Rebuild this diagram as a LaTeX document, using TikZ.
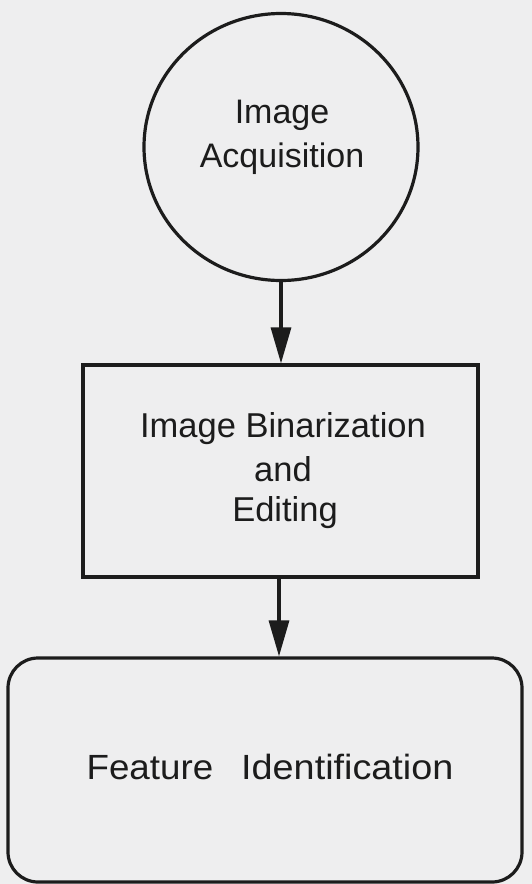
\documentclass[tikz,border=0pt]{standalone}
\usepackage{fontspec}
\setmainfont{Liberation Sans}
\usetikzlibrary{arrows.meta,shapes.geometric}
\definecolor{paper}{HTML}{EEEEEF}
\definecolor{ink}{HTML}{1C1C1C}
\begin{document}
\begin{tikzpicture}[x=1pt,y=-1pt,
  shapeline/.style={draw=ink,line width=3.2pt,inner sep=0pt},
  lbl/.style={text=ink,align=center,font=\fontsize{34}{44}\selectfont},
  flow/.style={draw=ink,line width=3.2pt,-{Triangle[length=36pt,width=20pt]}}]
  \fill[paper] (0,0) rectangle (532,884);
  \useasboundingbox (0,0) rectangle (532,884);
  % circle
  \node[shapeline,ellipse,minimum width=274pt,minimum height=267pt] (acq) at (281,147) {};
  \node[lbl,anchor=base] (acqA) at (282,123) {Image};
  \node[lbl,anchor=base] (acqB) at (282,167) {Acquisition};
  % rectangle
  \node[shapeline,rectangle,minimum width=395pt,minimum height=212pt] (bin) at (280.5,471) {};
  \node[lbl,anchor=base,font=\fontsize{34.5}{42}\selectfont] (binA) at (283,437) {Image Binarization};
  \node[lbl,anchor=base,font=\fontsize{34.5}{42}\selectfont] (binB) at (283,481) {and};
  \node[lbl,anchor=base,font=\fontsize{34.5}{42}\selectfont] (binC) at (285,521) {Editing};
  % rounded rectangle
  \node[shapeline,rectangle,rounded corners=30pt,minimum width=514pt,minimum height=224pt] (feat) at (265,770) {};
  \node[lbl,anchor=base,font=\fontsize{35}{44}\selectfont] (featT) at (270,779)
    {\scalebox{1.05}[1]{Feature}\hspace{28pt}\scalebox{1.08}[1]{Identification}};
  % connectors
  \draw[flow] (acq.south) -- (acq.south |- bin.north);
  \coordinate (b2) at (279,577);
  \draw[flow] (b2) -- (b2 |- feat.north);
\end{tikzpicture}
\end{document}
